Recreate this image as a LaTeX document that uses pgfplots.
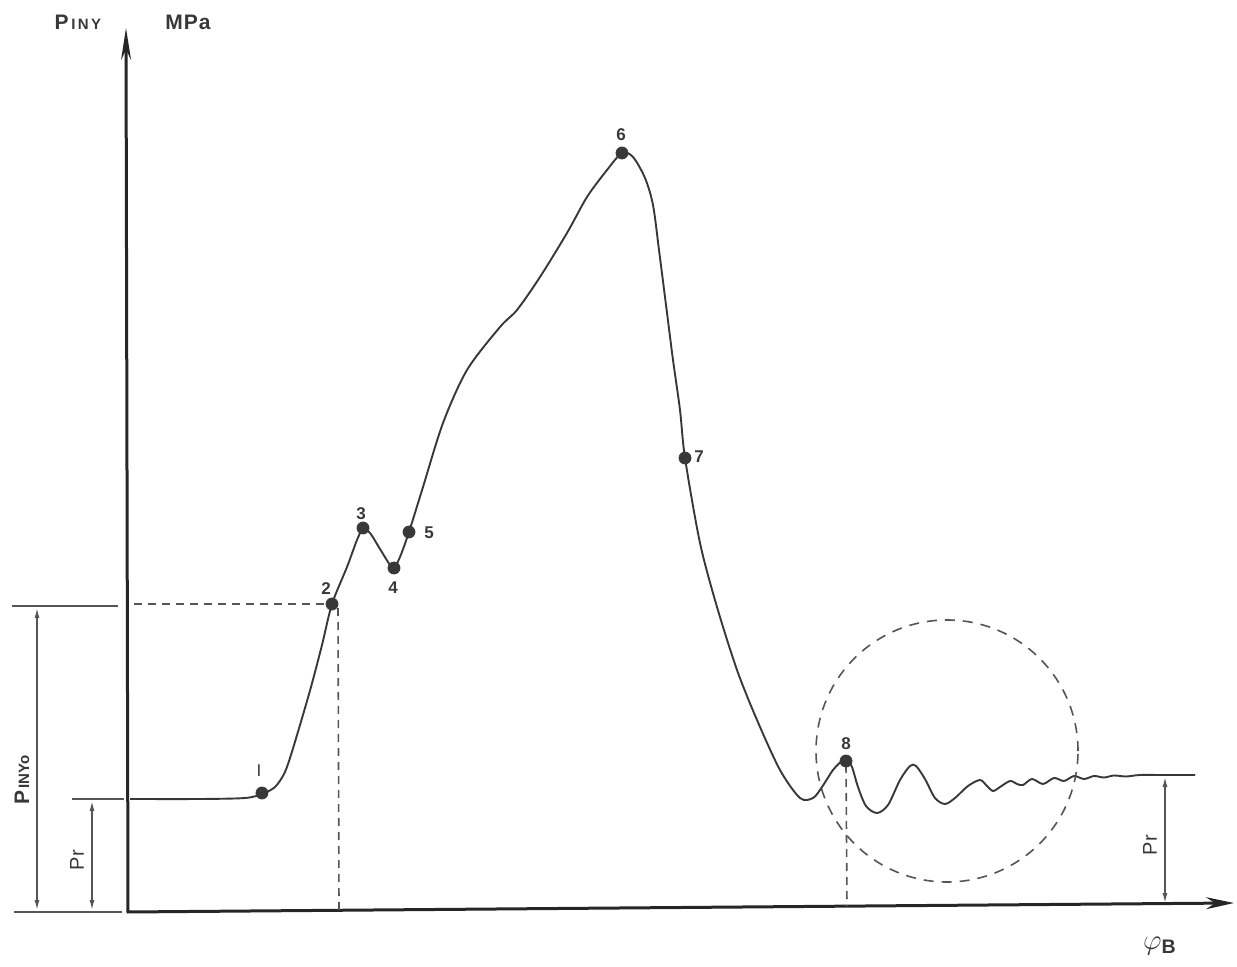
\documentclass[border=0pt]{standalone}
\usepackage{pgfplots}
\pgfplotsset{compat=1.18}
\usetikzlibrary{arrows.meta}
\usepackage{fontspec}
\setmainfont{Liberation Sans}
\definecolor{ink}{HTML}{383838}
\definecolor{dim}{HTML}{555555}
\begin{document}
\begin{tikzpicture}
\begin{axis}[name=ax, scale only axis, width=618.5pt, height=483.5pt,
  xmin=0, xmax=1237, ymin=0, ymax=967, y dir=reverse, hide axis, clip=false]
% main curve
\addplot[ink, line width=0.95pt, smooth, tension=0.5] coordinates {
(130,799) (200,799) (245,798) (262,794) (275,787) (284,774) (290,758) (300,725) (311,687) (322,645) (332,604) (347,567) (357,540) (363,529) (370,533) (380,549) (390,565) (394,568) (400,557) (409,532) (423,487) (443,423) (467,370) (500,327) (517,310) (540,277) (567,233) (587,197) (607,170) (622,153) (633,157) (645,178) (653,205) (659,250) (666,305) (673,360) (680,410) (685,458) (700,543) (717,607) (737,670) (757,720) (780,770) (800,798) (813,798) (822,787) (833,770) (842,761) (847,761) (852,767) (858,787) (866,806) (877,813) (888,805) (900,780) (910,766) (916,766) (925,779) (935,798) (945,804) (955,798) (968,786) (980,780) (987,786) (993,791) (1000,787) (1010,781) (1017,784) (1023,785) (1032,779) (1043,784) (1054,778) (1064,781) (1074,776) (1084,779) (1094,776) (1104,777.5) (1114,775.5) (1126,776.5) (1140,775) (1163,775) (1195,775)};
% marked points
\addplot[only marks, mark=*, mark size=3pt, ink] coordinates {
(262,793) (332,604) (363,528) (394,568) (409,532) (622,153) (685,458) (846,761)};
% axes
\addplot[black!85, line width=1.5pt, -{Stealth[length=16pt,width=5pt]}] coordinates {(128,913) (126,28)};
\addplot[black!85, line width=1.5pt, -{Stealth[length=14pt,width=6pt]}] coordinates {(127,912) (1234,903)};
% dashed helper lines
\addplot[dim, line width=0.8pt, dash pattern=on 4pt off 3pt] coordinates {(134,604) (330,604)};
\addplot[dim, line width=0.8pt, dash pattern=on 4pt off 3pt] coordinates {(338,608) (339,910)};
\addplot[dim, line width=0.8pt, dash pattern=on 4pt off 3pt] coordinates {(846,765) (847,906)};
% dimension lines
\addplot[dim, line width=0.7pt] coordinates {(12,606) (118,606)};
\addplot[dim, line width=0.7pt] coordinates {(72,799) (124,799)};
\addplot[dim, line width=0.7pt] coordinates {(14,912) (122,912)};
\addplot[dim, line width=0.7pt, {Latex[length=5pt,width=2.5pt]}-{Latex[length=5pt,width=2.5pt]}] coordinates {(37,608) (37,910)};
\addplot[dim, line width=0.7pt, {Latex[length=5pt,width=2.5pt]}-{Latex[length=5pt,width=2.5pt]}] coordinates {(92,801) (92,910)};
\addplot[dim, line width=0.7pt, {Latex[length=5pt,width=2.5pt]}-{Latex[length=5pt,width=2.5pt]}] coordinates {(1165,777) (1165,903)};
% dashed circle
\draw[dim, line width=0.8pt, dash pattern=on 5pt off 4pt] (axis cs:947,751) circle [radius=65.5pt];
% labels
\node[font=\fontsize{8.5}{9}\selectfont, ink] at (axis cs:259,771) {I};
\node[font=\bfseries\fontsize{8.5}{9}\selectfont, ink] at (axis cs:326,589) {2};
\node[font=\bfseries\fontsize{8.5}{9}\selectfont, ink] at (axis cs:361,514) {3};
\node[font=\bfseries\fontsize{8.5}{9}\selectfont, ink] at (axis cs:393,588) {4};
\node[font=\bfseries\fontsize{8.5}{9}\selectfont, ink] at (axis cs:429,533) {5};
\node[font=\bfseries\fontsize{8.5}{9}\selectfont, ink] at (axis cs:621,135) {6};
\node[font=\bfseries\fontsize{8.5}{9}\selectfont, ink] at (axis cs:699,457) {7};
\node[font=\bfseries\fontsize{8.5}{9}\selectfont, ink] at (axis cs:846,744) {8};
\node[font=\bfseries\fontsize{10.5}{11}\selectfont, ink] at (axis cs:78,22) {P{\fontsize{7.5}{8}\selectfont\,I\,N\,Y}};
\node[font=\bfseries\fontsize{10.5}{11}\selectfont, ink] at (axis cs:188,22) {M\kern0.5pt P\kern0.5pt a};
\node[font=\fontsize{10.5}{11}\selectfont\bfseries, ink, rotate=90] at (axis cs:22,780) {P{\fontsize{7.5}{8}\selectfont\,INYo}};
\node[font=\fontsize{10}{11}\selectfont, ink, rotate=90] at (axis cs:77,860) {Pr};
\node[font=\fontsize{10}{11}\selectfont, ink, rotate=90] at (axis cs:1150,845) {Pr};
\node[font=\fontsize{14}{15}\selectfont, ink] at (axis cs:1160,946) {$\varphi_{\mathbf{B}}$};
\end{axis}
\pgfresetboundingbox
\path[use as bounding box] (ax.south west) rectangle (ax.north east);
\end{tikzpicture}
\end{document}
